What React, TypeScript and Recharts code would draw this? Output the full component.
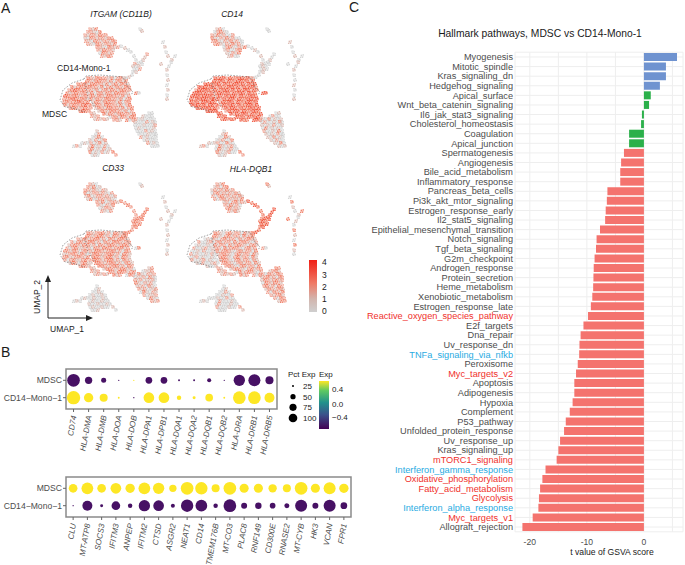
import { Bar, BarChart, CartesianGrid, Cell, ReferenceArea, Scatter, ScatterChart, XAxis, YAxis, ZAxis } from "recharts";

const FONT = "'Liberation Sans', Arial, sans-serif";

// ---- panel C ----
const PATHWAYS = ["Myogenesis", "Mitotic_spindle", "Kras_signaling_dn", "Hedgehog_signaling", "Apical_surface", "Wnt_beta_catenin_signaling", "Il6_jak_stat3_signaling", "Cholesterol_homeostasis", "Coagulation", "Apical_junction", "Spermatogenesis", "Angiogenesis", "Bile_acid_metabolism", "Inflammatory_response", "Pancreas_beta_cells", "Pi3k_akt_mtor_signaling", "Estrogen_response_early", "Il2_stat5_signaling", "Epithelial_mesenchymal_transition", "Notch_signaling", "Tgf_beta_signaling", "G2m_checkpoint", "Androgen_response", "Protein_secretion", "Heme_metabolism", "Xenobiotic_metabolism", "Estrogen_response_late", "Reactive_oxygen_species_pathway", "E2f_targets", "Dna_repair", "Uv_response_dn", "TNFa_signaling_via_nfkb", "Peroxisome", "Myc_targets_v2", "Apoptosis", "Adipogenesis", "Hypoxia", "Complement", "P53_pathway", "Unfolded_protein_response", "Uv_response_up", "Kras_signaling_up", "mTORC1_signaling", "Interferon_gamma_response", "Oxidative_phosphorylation", "Fatty_acid_metabolism", "Glycolysis", "Interferon_alpha_response", "Myc_targets_v1", "Allograft_rejection"];
const TVALUES = [5.8, 3.86, 3.86, 2.8, 1.2, 0.9, -0.35, -0.5, -2.6, -2.6, -3.5, -4, -4.15, -4.15, -6.4, -6.5, -6.7, -6.8, -7.7, -8.3, -8.4, -8.65, -8.8, -8.85, -8.9, -9.05, -9.3, -9.8, -10.6, -11.1, -11.3, -11.35, -11.6, -11.9, -12.2, -12.2, -12.5, -13, -13.7, -14, -14.7, -15, -15.3, -17.25, -17.8, -18.2, -18.4, -18.5, -19.5, -21.3];
const RED_LABELS = ["Reactive_oxygen_species_pathway", "Myc_targets_v2", "mTORC1_signaling", "Oxidative_phosphorylation", "Fatty_acid_metabolism", "Glycolysis", "Myc_targets_v1"];
const BLUE_LABELS = ["TNFa_signaling_via_nfkb", "Interferon_gamma_response", "Interferon_alpha_response"];
const BLUE_BARS = 4;
const GREEN_BARS = 6;
const T_TICKS = [-20, -15, -10, -5, 0, 5];

const barRows = PATHWAYS.map((name, i) => ({ name, t: TVALUES[i] }));

function barColor(i: number) {
  if (i < BLUE_BARS) return "#6f93d0";
  if (i < BLUE_BARS + GREEN_BARS) return "#2bb04a";
  return "#f4736e";
}

function PathwayTick({ x, y, payload }: any) {
  const name = payload.value;
  const fill = RED_LABELS.includes(name) ? "#f0302c" : BLUE_LABELS.includes(name) ? "#29abe2" : "#4d4d4d";
  return (
    <text x={x - 2} y={y} dy={3.2} textAnchor="end" fontSize={9.2} fontFamily={FONT} fill={fill}>
      {name}
    </text>
  );
}

// ---- panel B ----
const GENES_TOP = ["CD74", "HLA-DMA", "HLA-DMB", "HLA-DOA", "HLA-DOB", "HLA-DPA1", "HLA-DPB1", "HLA-DQA1", "HLA-DQA2", "HLA-DQB1", "HLA-DQB2", "HLA-DRA", "HLA-DRB1", "HLA-DRB5"];
const MDSC_PCT_TOP = [90, 30, 14, 1, 1, 25, 25, 2, 2, 9, 1, 72, 81, 36];
const MONO_PCT_TOP = [100, 49, 36, 2, 1, 64, 64, 11, 5, 33, 2, 90, 90, 56];
const MDSC_EXP_TOP = [-0.7, -0.7, -0.7, -0.7, 0.7, -0.7, -0.7, -0.7, -0.7, -0.7, -0.7, -0.7, -0.7, -0.7];
const MONO_EXP_TOP = [0.7, 0.7, 0.7, 0.7, -0.7, 0.7, 0.7, 0.7, 0.7, 0.7, 0.7, 0.7, 0.7, 0.7];

const GENES_BOTTOM = ["CLU", "MT-ATP8", "SOCS3", "IFITM3", "ANPEP", "IFITM2", "CTSD", "ASGR2", "NEAT1", "CD14", "TMEM176B", "MT-CO3", "PLAC8", "RNF149", "CD300E", "RNASE2", "MT-CYB", "HK3", "VCAN", "FPR1"];
const MDSC_PCT_BOTTOM = [42, 77, 42, 64, 49, 77, 72, 30, 90, 86, 36, 90, 46, 46, 39, 36, 90, 46, 81, 49];
const MONO_PCT_BOTTOM = [1, 56, 5, 42, 11, 72, 64, 9, 86, 77, 11, 90, 20, 23, 18, 14, 81, 20, 81, 25];

const CELL_TYPES = ["CD14\u2212Mono\u22121", "MDSC"];
const PCT_LEGEND = [25, 50, 75, 100];
const YELLOW = "#fde725";
const PURPLE = "#471164";

function dotRows(pctLow: number[], pctHigh: number[], expLow: number[], expHigh: number[]) {
  return [
    ...pctLow.map((pct, i) => ({ gene: i, row: 0, pct, exp: expLow[i] })),
    ...pctHigh.map((pct, i) => ({ gene: i, row: 1, pct, exp: expHigh[i] })),
  ];
}

function GeneTick({ x, y, payload, genes }: any) {
  return (
    <g transform={`translate(${x + 3},${y + 2}) rotate(-80)`}>
      <text textAnchor="end" fontSize={8} fontStyle="italic" fontFamily={FONT} fill="#4d4d4d">
        {genes[payload.value]}
      </text>
    </g>
  );
}

function DotPlot({ genes, rows, left, top, width }: any) {
  const data = rows;
  const last = genes.length - 0.5;
  return (
    <div style={{ position: "absolute", left, top }}>
      <ScatterChart width={width} height={93} margin={{ top: 5, right: 5, left: 0, bottom: 0 }}>
        <XAxis
          type="number"
          dataKey="gene"
          domain={[-0.5, last]}
          ticks={genes.map((_: string, i: number) => i)}
          interval={0}
          tick={<GeneTick genes={genes} />}
          tickSize={3}
          axisLine={false}
          stroke="#666"
          height={48}
        />
        <YAxis
          type="number"
          dataKey="row"
          domain={[-0.65, 1.65]}
          ticks={[0, 1]}
          interval={0}
          width={66}
          axisLine={false}
          tickSize={3}
          tickMargin={1}
          stroke="#666"
          tickFormatter={(v: number) => CELL_TYPES[v]}
          tick={{ fontSize: 8.6, fontFamily: FONT, fill: "#4d4d4d" }}
        />
        <ZAxis type="number" dataKey="pct" domain={[0, 100]} range={[0, 140]} />
        <ReferenceArea x1={-0.5} x2={last} y1={-0.65} y2={1.65} fill="none" stroke="#8a8a8a" strokeWidth={1.5} />
        <Scatter data={data} isAnimationActive={false}>
          {data.map((d: any, i: number) => (
            <Cell key={i} fill={d.exp > 0 ? YELLOW : PURPLE} />
          ))}
        </Scatter>
      </ScatterChart>
    </div>
  );
}

// ---- panel A: cell positions, one row per line: [y, x, x, ...] ----
const UPPER = [
  [29, 90, 93, 96], [32, 88, 91, 94, 97, 100], [35, 85, 88, 91, 94, 97, 100, 103, 106],
  [38, 85, 88, 91, 94, 97, 100, 103, 106, 109, 112], [41, 86, 89, 92, 95, 98, 101, 104, 107, 110, 113, 115],
  [44, 88, 91, 94, 97, 100, 103, 106, 109, 112, 115], [47, 97, 100, 103, 106, 109, 112, 115, 118],
  [50, 98, 101, 104, 107, 110, 113], [53, 100, 103, 106, 109, 112], [56, 102, 105, 108, 111],
];
const BRIDGE = [
  [46, 121], [48, 125], [50, 128], [52, 131], [54, 147], [56, 134], [57, 145], [60, 136, 143], [62, 141],
  [63, 138], [64, 135, 142], [66, 133, 136, 139], [69, 134, 137, 140], [72, 133, 136], [75, 132], [77, 129], [78, 126],
];
const MONO = [
  [78, 88, 91, 94, 97, 100, 103, 106, 109, 112, 115, 118, 121, 124],
  [81, 87, 90, 93, 96, 99, 102, 105, 108, 111, 114, 117, 120, 123, 126],
  [84, 86, 89, 92, 95, 98, 101, 104, 107, 110, 113, 116, 119, 122, 125, 128],
  [87, 87, 90, 93, 96, 99, 102, 105, 108, 111, 114, 117, 120, 123, 126, 129],
  [90, 88, 91, 94, 97, 100, 103, 106, 109, 112, 115, 118, 121, 124, 127, 130],
  [93, 89, 92, 95, 98, 101, 104, 107, 110, 113, 116, 119, 122, 125, 128, 136, 139],
  [96, 90, 93, 96, 99, 102, 105, 108, 111, 114, 117, 120, 123, 126, 129],
  [99, 91, 94, 97, 100, 103, 106, 109, 112, 115, 118, 121, 124, 127, 130],
  [102, 93, 96, 99, 102, 105, 108, 111, 114, 117, 120, 123, 126, 129],
  [105, 94, 97, 100, 103, 106, 109, 112, 115, 118, 121, 124, 127, 130],
  [108, 96, 99, 102, 105, 108, 111, 114, 117, 120, 123, 126, 129, 132],
  [111, 99, 102, 105, 108, 111, 114, 117, 120, 123, 126, 129, 132],
  [114, 104, 107, 110, 113, 116, 119, 122, 125, 128, 131, 134],
  [117, 110, 113, 116, 119, 122, 125, 128, 131, 134],
  [120, 114, 117, 120, 127, 130, 133],
];
const MDSC = [
  [84, 78, 81, 84], [87, 72, 75, 78, 81, 84], [90, 69, 72, 75, 78, 81, 84], [93, 67, 70, 73, 76, 79, 82, 85],
  [96, 65, 68, 71, 74, 77, 80, 83, 86], [99, 64, 67, 70, 73, 76, 79, 82, 85, 87], [102, 64, 67, 70, 73, 76, 79, 82, 85, 88],
  [105, 65, 68, 71, 74, 77, 80, 83, 86, 90], [108, 70, 73, 76, 79, 82, 85, 88, 91], [111, 80, 83, 86, 89],
];
const ARC = [[113, 91, 94], [116, 92, 95, 98], [119, 95, 98, 101, 104, 107]];
const LOWER_RIGHT = [
  [113, 149, 152], [116, 143, 146, 149, 152], [119, 136, 139, 142, 145, 148, 151, 154],
  [122, 135, 138, 141, 144, 147, 150, 153, 155], [125, 135, 138, 141, 144, 147, 150, 153, 155],
  [128, 136, 139, 142, 145, 148, 151, 154], [131, 137, 140, 143, 146, 149, 152, 155],
  [134, 139, 142, 145, 148, 151, 154, 156], [137, 141, 144, 147, 150, 153, 156], [140, 144, 147, 150, 153, 156],
  [143, 148, 151, 154, 157], [146, 152, 155, 158],
];
const TRIANGLE = [
  [131, 97], [134, 96, 99], [137, 93, 96, 99, 102], [140, 90, 93, 96, 99, 102, 105],
  [143, 82, 85, 88, 91, 94, 97, 100, 103, 106], [146, 74, 77, 80, 90, 93, 96, 99, 102, 105, 108],
  [149, 89, 92, 95, 98, 101, 104, 107, 110], [152, 90, 93, 96, 99, 102, 105, 108, 113], [155, 92, 95, 98, 116],
];
const STRIP = [
  [29, 140], [31, 142], [42, 163], [47, 165], [52, 166], [56, 168, 175], [60, 172], [62, 171], [64, 161],
  [66, 169], [70, 167], [75, 167], [80, 168], [85, 167], [90, 168], [95, 167], [99, 167],
];
const CLUSTERS: [string, number[][]][] = [
  ["upper", UPPER], ["bridge", BRIDGE], ["mono", MONO], ["mdsc", MDSC], ["arc", ARC], ["lowerRight", LOWER_RIGHT], ["triangle", TRIANGLE], ["strip", STRIP],
];

const OUTLINE_MONO = [{ x: 84, y: 79 }, { x: 86, y: 76 }, { x: 100, y: 75 }, { x: 123, y: 77 }, { x: 128, y: 87 }, { x: 133, y: 92 }, { x: 131, y: 95 }];
const OUTLINE_MDSC = [{ x: 84, y: 79 }, { x: 72, y: 83 }, { x: 63, y: 90 }, { x: 60, y: 100 }, { x: 65, y: 107 }, { x: 72, y: 108 }, { x: 85, y: 112 }];
const OUTLINE_SPLIT = [{ x: 85, y: 83 }, { x: 88, y: 97 }, { x: 95, y: 107 }];

const GRAY = "#cfcfcf";
const PINK = "#d9b5ac";
const SALMON = "#ef9480";
const CORAL = "#f0745a";
const RED = "#ef4a30";

// colours cycled through the cells of one cluster, per gene (uneven on purpose, no stripes)
const ITGAM_COLORS: any = {
  upper: [SALMON, PINK, CORAL, SALMON, SALMON, PINK, GRAY, CORAL, SALMON, PINK, SALMON], bridge: [GRAY, PINK, GRAY, GRAY, SALMON, GRAY, PINK],
  mono: [CORAL, SALMON, PINK, CORAL, CORAL, SALMON, SALMON, PINK, CORAL, GRAY, SALMON, CORAL, PINK], mdsc: [CORAL, SALMON, CORAL, CORAL, PINK, SALMON, CORAL, SALMON, SALMON, CORAL, RED],
  arc: [SALMON, PINK], lowerRight: [GRAY, GRAY, PINK, GRAY, GRAY, GRAY, SALMON, GRAY, PINK, GRAY, GRAY], triangle: [PINK, GRAY, SALMON, GRAY, PINK, CORAL, GRAY], strip: [GRAY, PINK],
};
const CD14_COLORS: any = {
  upper: [PINK, SALMON, GRAY, GRAY, SALMON, CORAL, PINK, GRAY, SALMON, PINK, CORAL], bridge: [GRAY, GRAY, PINK],
  mono: [RED, CORAL, RED, RED, SALMON, RED, CORAL, CORAL, RED, RED, CORAL, RED, SALMON], mdsc: [RED, RED, CORAL, RED, RED, RED, CORAL, RED, SALMON, RED, RED],
  arc: [RED, CORAL], lowerRight: [GRAY, PINK, GRAY, SALMON, GRAY, GRAY, PINK, GRAY, CORAL, GRAY, PINK], triangle: [GRAY, PINK, SALMON, GRAY, GRAY, CORAL, PINK], strip: [GRAY, GRAY, PINK],
};
const CD33_COLORS: any = {
  upper: [SALMON, PINK, GRAY, SALMON, PINK, CORAL, GRAY, PINK, SALMON, SALMON, PINK], bridge: [CORAL, SALMON],
  mono: [CORAL, SALMON, PINK, SALMON, CORAL, CORAL, PINK, SALMON, GRAY, CORAL, SALMON, PINK, CORAL], mdsc: [SALMON, PINK, CORAL, SALMON, GRAY, SALMON, CORAL, PINK, PINK, SALMON, CORAL],
  arc: [SALMON, PINK], lowerRight: [PINK, SALMON, GRAY, PINK, PINK, SALMON, GRAY, CORAL, PINK, GRAY, SALMON], triangle: [GRAY, GRAY, PINK], strip: [GRAY, PINK],
};
const DQB1_COLORS: any = {
  upper: [SALMON, PINK, CORAL, PINK, SALMON, GRAY, SALMON, CORAL, PINK, SALMON, PINK], bridge: [RED, CORAL],
  mono: [CORAL, SALMON, PINK, GRAY, SALMON, CORAL, PINK, SALMON, SALMON, GRAY, CORAL, PINK, SALMON], mdsc: [GRAY, PINK, GRAY, SALMON, GRAY, GRAY, PINK, SALMON, GRAY, PINK, GRAY],
  arc: [SALMON, PINK], lowerRight: [CORAL, SALMON, PINK, SALMON, CORAL, PINK, SALMON, GRAY, CORAL, SALMON, PINK], triangle: [GRAY, GRAY, PINK, GRAY, GRAY, SALMON, GRAY], strip: [CORAL, PINK, GRAY],
};

const UMAP_PANELS = [
  { gene: "ITGAM (CD11B)", left: 0, top: 0, colors: ITGAM_COLORS },
  { gene: "CD14", left: 127, top: 0, colors: CD14_COLORS },
  { gene: "CD33", left: 0, top: 155, colors: CD33_COLORS },
  { gene: "HLA-DQB1", left: 127, top: 155, colors: DQB1_COLORS },
];

function umapCells(colors: any) {
  const out: { x: number; y: number; fill: string; alt: number }[] = [];
  CLUSTERS.forEach(([key, rows]) => {
    let n = 0;
    rows.forEach(([y, ...xs]) => {
      xs.forEach((x) => {
        out.push({ x, y, fill: colors[key][n % colors[key].length], alt: n % 4 });
        n += 1;
      });
    });
  });
  return out;
}

// each cell is a small speckle so the clusters read as grainy, not as a grid
const SPECKS = [
  [[-1, -1], [1.2, -0.4], [-0.3, 1.1], [1, 1.4]],
  [[0.4, -1.3], [-1.3, 0.2], [1.3, 0.7], [-0.6, 1.3]],
  [[-0.6, -0.4], [1.4, -1.2], [0.5, 1.2], [-1.5, 1.3]],
  [[1, 0.1], [-1.1, -1.3], [-0.9, 0.8], [0.6, -0.9]],
];

function CellDot({ cx, cy, payload }: any) {
  return (
    <g fill={payload.fill}>
      <circle cx={cx} cy={cy} r={1.9} opacity={0.38} />
      {SPECKS[payload.alt].map(([dx, dy], i) => (
        <circle key={i} cx={cx + dx} cy={cy + dy} r={0.62} />
      ))}
    </g>
  );
}

function Umap({ colors, left, top }: any) {
  const noDot = () => <g />;
  const dash = { stroke: "#777", strokeWidth: 0.7, strokeDasharray: "1.5 1.5" };
  return (
    <div style={{ position: "absolute", left, top }}>
      <ScatterChart width={180} height={165} margin={{ top: 0, right: 0, left: 0, bottom: 0 }}>
        <XAxis type="number" dataKey="x" domain={[0, 180]} hide />
        <YAxis type="number" dataKey="y" domain={[0, 165]} reversed hide />
        <Scatter data={umapCells(colors)} shape={<CellDot />} isAnimationActive={false} />
        <Scatter data={OUTLINE_MONO} line={dash} shape={noDot} isAnimationActive={false} />
        <Scatter data={OUTLINE_MDSC} line={dash} shape={noDot} isAnimationActive={false} />
        <Scatter data={OUTLINE_SPLIT} line={dash} shape={noDot} isAnimationActive={false} />
      </ScatterChart>
    </div>
  );
}

function Txt({ x, y, size = 8.5, anchor = "start", style, children }: any) {
  const tx = anchor === "middle" ? "translateX(-50%)" : anchor === "end" ? "translateX(-100%)" : "";
  return (
    <div style={{ position: "absolute", left: x, top: y, fontSize: size, lineHeight: 1, whiteSpace: "nowrap", fontFamily: FONT, color: "#1a1a1a", transform: tx, ...style }}>
      {children}
    </div>
  );
}

const REDS = "linear-gradient(to bottom, #f01e14, #ef7a66 45%, #d2b5ae 75%, #cfcfcf)";
const VIRIDIS = "linear-gradient(to bottom, #fde725, #5ec962 20%, #21918c 45%, #3b528b 70%, #440154)";
const RED_SCALE = [["4", 258], ["3", 271], ["2", 283], ["1", 295], ["0", 307]];
const EXP_SCALE = [["0.4", 386], ["0.0", 401], ["\u22120.4", 414]];

export default function App() {
  return (
    <div style={{ position: "absolute", left: 0, top: 0, width: 685, height: 565, background: "#fff", overflow: "hidden" }}>
      <Txt x={1} y={1} size={14}>A</Txt>
      <Txt x={1} y={345} size={14}>B</Txt>
      <Txt x={349} y={0} size={14}>C</Txt>

      {UMAP_PANELS.map((p) => (
        <Umap key={p.gene} colors={p.colors} left={p.left} top={p.top} />
      ))}
      <Txt x={121} y={10} anchor="middle" style={{ fontStyle: "italic" }}>ITGAM (CD11B)</Txt>
      <Txt x={232} y={10} anchor="middle" style={{ fontStyle: "italic" }}>CD14</Txt>
      <Txt x={113} y={164} anchor="middle" style={{ fontStyle: "italic" }}>CD33</Txt>
      <Txt x={251} y={165} anchor="middle" style={{ fontStyle: "italic" }}>HLA-DQB1</Txt>
      <Txt x={57} y={64}>CD14-Mono-1</Txt>
      <Txt x={42} y={110}>MDSC</Txt>

      <svg width={100} height={60} style={{ position: "absolute", left: 40, top: 270 }}>
        <path d="M8 48 V8 M8 48 H50" stroke="#222" fill="none" />
        <path d="M8 5 L5 12 H11 Z M53 48 L46 45 V51 Z" fill="#222" />
      </svg>
      <Txt x={37} y={297} anchor="middle" style={{ transform: "translate(-50%,-50%) rotate(-90deg)" }}>UMAP_2</Txt>
      <Txt x={50} y={325}>UMAP_1</Txt>

      <div style={{ position: "absolute", left: 309, top: 260, width: 8, height: 52, background: REDS }} />
      {RED_SCALE.map(([t, y]) => (
        <Txt key={t} x={322} y={y}>{t}</Txt>
      ))}

      <DotPlot genes={GENES_TOP} left={0} top={364} width={282} rows={dotRows(MONO_PCT_TOP, MDSC_PCT_TOP, MONO_EXP_TOP, MDSC_EXP_TOP)} />
      <DotPlot
        genes={GENES_BOTTOM}
        left={0}
        top={472}
        width={356}
        rows={dotRows(MONO_PCT_BOTTOM, MDSC_PCT_BOTTOM, MONO_PCT_BOTTOM.map(() => -0.7), MDSC_PCT_BOTTOM.map(() => 0.7))}
      />

      <Txt x={288} y={371} size={8}>Pct Exp</Txt>
      <div style={{ position: "absolute", left: 283, top: 380 }}>
        <ScatterChart width={52} height={44} margin={{ top: 6, right: 0, left: 0, bottom: 6 }}>
          <XAxis type="number" dataKey="x" domain={[0, 2]} hide />
          <YAxis
            type="number"
            dataKey="pct"
            orientation="right"
            reversed
            domain={[25, 100]}
            ticks={PCT_LEGEND}
            interval={0}
            width={32}
            axisLine={false}
            tickLine={false}
            tickSize={0}
            tickMargin={0}
            tick={{ fontSize: 8, fontFamily: FONT, fill: "#1a1a1a" }}
          />
          <ZAxis type="number" dataKey="pct" domain={[25, 100]} range={[3, 59]} />
          <Scatter data={PCT_LEGEND.map((pct) => ({ x: 1, pct }))} fill="#000" isAnimationActive={false} />
        </ScatterChart>
      </div>
      <Txt x={319} y={371} size={8}>Exp</Txt>
      <div style={{ position: "absolute", left: 319, top: 381, width: 10, height: 48, background: VIRIDIS }} />
      {EXP_SCALE.map(([t, y]) => (
        <Txt key={t} x={332} y={y} size={8}>{t}</Txt>
      ))}

      <Txt x={540} y={29} size={10.3} anchor="middle">Hallmark pathways, MDSC vs CD14-Mono-1</Txt>
      <div style={{ position: "absolute", left: 340, top: 0 }}>
        <BarChart
          width={345}
          height={565}
          layout="vertical"
          data={barRows}
          barCategoryGap="8%"
          margin={{ top: 52.2, right: 2, left: 0, bottom: 3.2 }}
        >
          <CartesianGrid stroke="#eeeeee" />
          <XAxis
            type="number"
            domain={[-22.6, 6.85]}
            ticks={T_TICKS}
            interval={0}
            height={30}
            axisLine={false}
            tickLine={false}
            tickMargin={1}
            tickFormatter={(v: number) => (v % 10 === 0 ? String(v) : "")}
            tick={{ fontSize: 8.6, fontFamily: FONT, fill: "#4d4d4d" }}
          />
          <YAxis
            type="category"
            dataKey="name"
            width={175}
            interval={0}
            axisLine={false}
            tickLine={false}
            tickSize={0}
            tickMargin={0}
            tick={<PathwayTick />}
          />
          <Bar dataKey="t" isAnimationActive={false}>
            {barRows.map((r, i) => (
              <Cell key={r.name} fill={barColor(i)} />
            ))}
          </Bar>
        </BarChart>
      </div>
      <Txt x={612} y={548} size={8.6} anchor="middle">t value of GSVA score</Txt>
    </div>
  );
}
